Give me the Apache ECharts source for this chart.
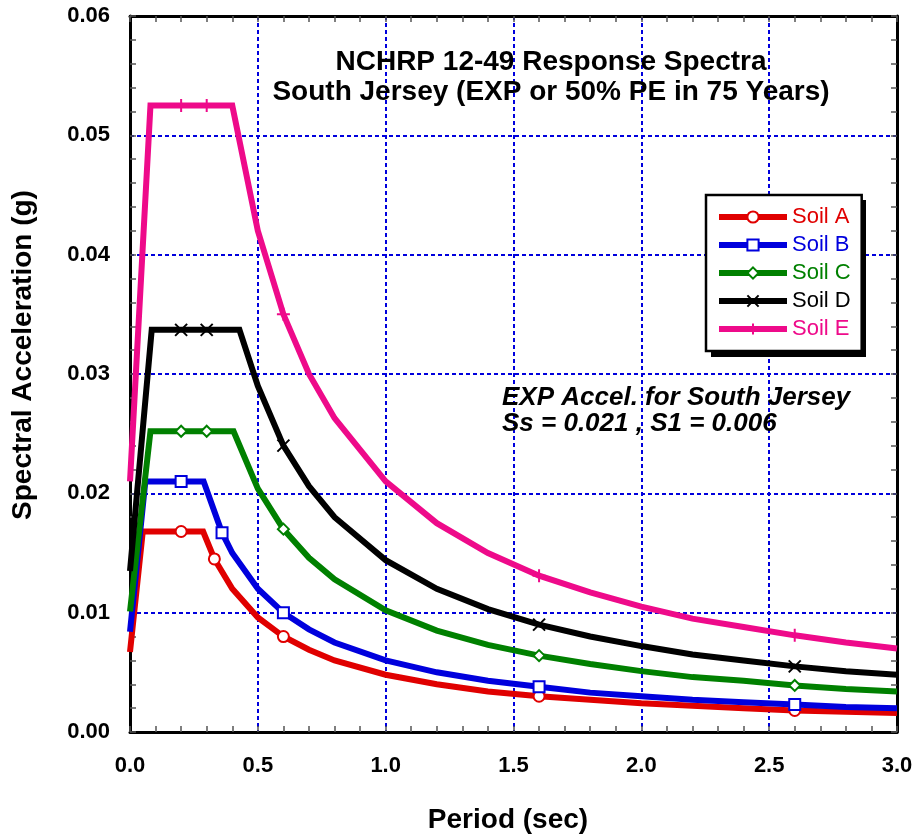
<!DOCTYPE html>
<html>
<head>
<meta charset="utf-8">
<script src="https://cdn.jsdelivr.net/npm/echarts@6/dist/echarts.min.js"></script>
<style>
html,body{margin:0;padding:0;background:#fff;}
#chart{width:916px;height:837px;}
</style>
</head>
<body>
<div id="chart"></div>
<script>
// ---- data ----
var soilA_T  = [0, 0.05, 0.2, 0.286, 0.33, 0.4, 0.5, 0.6, 0.7, 0.8, 1.0, 1.2, 1.4, 1.6, 1.8, 2.0, 2.2, 2.4, 2.6, 2.8, 3.0];
var soilA_Sa = [0.0067, 0.0168, 0.0168, 0.0168, 0.0145, 0.0120, 0.0096, 0.0080, 0.0069, 0.0060, 0.0048, 0.0040, 0.0034, 0.0030, 0.0027, 0.0024, 0.0022, 0.0020, 0.0018, 0.0017, 0.0016];
var soilA_markers = [0.2, 0.33, 0.6, 1.6, 2.6];

var soilB_T  = [0, 0.06, 0.2, 0.288, 0.36, 0.4, 0.5, 0.6, 0.7, 0.8, 1.0, 1.2, 1.4, 1.6, 1.8, 2.0, 2.2, 2.4, 2.6, 2.8, 3.0];
var soilB_Sa = [0.0084, 0.0210, 0.0210, 0.0210, 0.0167, 0.0150, 0.0120, 0.0100, 0.0086, 0.0075, 0.0060, 0.0050, 0.0043, 0.0038, 0.0033, 0.0030, 0.0027, 0.0025, 0.0023, 0.0021, 0.0020];
var soilB_markers = [0.2, 0.36, 0.6, 1.6, 2.6];

var soilC_T  = [0, 0.08, 0.2, 0.3, 0.405, 0.5, 0.6, 0.7, 0.8, 1.0, 1.2, 1.4, 1.6, 1.8, 2.0, 2.2, 2.4, 2.6, 2.8, 3.0];
var soilC_Sa = [0.0101, 0.0252, 0.0252, 0.0252, 0.0252, 0.0204, 0.0170, 0.0146, 0.0128, 0.0102, 0.0085, 0.0073, 0.0064, 0.0057, 0.0051, 0.0046, 0.0043, 0.0039, 0.0036, 0.0034];
var soilC_markers = [0.2, 0.3, 0.6, 1.6, 2.6];

var soilD_T  = [0, 0.085, 0.2, 0.3, 0.428, 0.5, 0.6, 0.7, 0.8, 1.0, 1.2, 1.4, 1.6, 1.8, 2.0, 2.2, 2.4, 2.6, 2.8, 3.0];
var soilD_Sa = [0.0135, 0.0337, 0.0337, 0.0337, 0.0337, 0.0290, 0.0240, 0.0206, 0.0180, 0.0144, 0.0120, 0.0103, 0.0090, 0.0080, 0.0072, 0.0065, 0.0060, 0.0055, 0.0051, 0.0048];
var soilD_markers = [0.2, 0.3, 0.6, 1.6, 2.6];

var soilE_T  = [0, 0.08, 0.2, 0.3, 0.40, 0.5, 0.6, 0.7, 0.8, 1.0, 1.2, 1.4, 1.6, 1.8, 2.0, 2.2, 2.4, 2.6, 2.8, 3.0];
var soilE_Sa = [0.0210, 0.0525, 0.0525, 0.0525, 0.0525, 0.0420, 0.0350, 0.0300, 0.0263, 0.0210, 0.0175, 0.0150, 0.0131, 0.0117, 0.0105, 0.0095, 0.0088, 0.0081, 0.0075, 0.0070];
var soilE_markers = [0.2, 0.3, 0.6, 1.6, 2.6];

var seriesNames = ['Soil A', 'Soil B', 'Soil C', 'Soil D', 'Soil E'];
var titleLines = ['NCHRP 12-49 Response Spectra', 'South Jersey (EXP or 50% PE in 75 Years)'];
var noteLines = ['EXP Accel. for South Jersey', 'Ss = 0.021 , S1 = 0.006'];
var xAxisTitle = 'Period (sec)';
var yAxisTitle = 'Spectral Acceleration (g)';

// ---- styling ----
var colors = ['#e00000', '#0000dd', '#008000', '#000000', '#ee0a8a'];
var symbols = [
  'emptyCircle',
  'emptyRect',
  'emptyDiamond',
  'path://M0,0L10,10M10,0L0,10',
  'path://M0,5L10,5M5,0L5,10'
];
var symbolSizes = [11, 11, 11, 12, 13];
var FONT = '"Liberation Sans", Arial, Helvetica, sans-serif';

function buildData(T, S, markers) {
  var out = [];
  for (var i = 0; i < T.length; i++) {
    var item = { value: [T[i], S[i]] };
    if (markers.indexOf(T[i]) < 0) item.symbol = 'none';
    out.push(item);
  }
  return out;
}
var allT = [soilA_T, soilB_T, soilC_T, soilD_T, soilE_T];
var allS = [soilA_Sa, soilB_Sa, soilC_Sa, soilD_Sa, soilE_Sa];
var allM = [soilA_markers, soilB_markers, soilC_markers, soilD_markers, soilE_markers];

var series = seriesNames.map(function (name, i) {
  var isPath = i >= 3;
  return {
    name: name,
    type: 'line',
    data: buildData(allT[i], allS[i], allM[i]),
    xAxisIndex: 0, yAxisIndex: 0,
    symbol: symbols[i],
    symbolSize: symbolSizes[i],
    showSymbol: true,
    showAllSymbol: true,
    lineStyle: { color: colors[i], width: 6, join: 'miter' },
    itemStyle: isPath
      ? { color: colors[i], borderColor: colors[i], borderWidth: 2 }
      : { color: colors[i], borderWidth: 1.5 },
    z: 2 + i,
    animation: false,
    silent: true
  };
});

var chart = echarts.init(document.getElementById('chart'), null, { renderer: 'canvas' });

var gridLine = { show: true, lineStyle: { color: '#0000dd', width: 2, type: [4, 3] } };
var axisLineStyle = { show: true, onZero: false, lineStyle: { color: '#000', width: 3 } };
var tickStyle = { color: '#555', width: 1.5 };

var option = {
  animation: false,
  backgroundColor: '#ffffff',
  grid: { left: 130, top: 16, right: 19, bottom: 105, containLabel: false },
  xAxis: [
    {
      type: 'value', min: 0, max: 3, interval: 0.5,
      axisLine: axisLineStyle,
      axisTick: { show: true, inside: true, length: 6, lineStyle: tickStyle },
      minorTick: { show: true, splitNumber: 5, length: 6, lineStyle: tickStyle },
      splitLine: gridLine,
      axisLabel: {
        margin: 23, color: '#000', fontFamily: FONT, fontWeight: 'bold', fontSize: 22,
        formatter: function (v) { return v.toFixed(1); }
      }
    },
    {
      type: 'value', min: 0, max: 3, interval: 0.5, position: 'top',
      axisLine: axisLineStyle,
      axisTick: { show: true, inside: true, length: 6, lineStyle: tickStyle },
      minorTick: { show: true, splitNumber: 5, length: 6, lineStyle: tickStyle },
      splitLine: { show: false },
      axisLabel: { show: false }
    }
  ],
  yAxis: [
    {
      type: 'value', min: 0, max: 0.06, interval: 0.01,
      axisLine: axisLineStyle,
      axisTick: { show: true, inside: true, length: 6, lineStyle: tickStyle },
      minorTick: { show: true, splitNumber: 5, length: 6, lineStyle: tickStyle },
      splitLine: gridLine,
      axisLabel: {
        margin: 20, color: '#000', fontFamily: FONT, fontWeight: 'bold', fontSize: 22,
        formatter: function (v) { return v.toFixed(2); }
      }
    },
    {
      type: 'value', min: 0, max: 0.06, interval: 0.01, position: 'right',
      axisLine: axisLineStyle,
      axisTick: { show: true, inside: true, length: 6, lineStyle: tickStyle },
      minorTick: { show: true, splitNumber: 5, length: 6, lineStyle: tickStyle },
      splitLine: { show: false },
      axisLabel: { show: false }
    }
  ],
  legend: {
    orient: 'vertical',
    left: 706, top: 195,
    padding: [11, 11, 11, 10],
    itemWidth: 68, itemHeight: 14, itemGap: 6,
    backgroundColor: '#ffffff',
    borderColor: '#000', borderWidth: 2.5,
    selectedMode: false,
    z: 20,
    lineStyle: { width: 6 },
    textStyle: { fontFamily: FONT, fontSize: 22, lineHeight: 22 },
    data: seriesNames.map(function (n, i) { return { name: n, textStyle: { color: colors[i] } }; })
  },
  graphic: [
    { type: 'rect', z: 19, shape: { x: 711, y: 200, width: 155, height: 157 }, style: { fill: '#000' } },
    { type: 'text', x: 551, y: 62, z: 10, style: { text: titleLines[0], font: 'bold 28px ' + FONT, fill: '#000', align: 'center', verticalAlign: 'middle' } },
    { type: 'text', x: 551, y: 92, z: 10, style: { text: titleLines[1], font: 'bold 28px ' + FONT, fill: '#000', align: 'center', verticalAlign: 'middle' } },
    { type: 'text', x: 502, y: 398, z: 10, style: { text: noteLines[0], font: 'italic bold 26px ' + FONT, fill: '#000', align: 'left', verticalAlign: 'middle' } },
    { type: 'text', x: 502, y: 424, z: 10, style: { text: noteLines[1], font: 'italic bold 26px ' + FONT, fill: '#000', align: 'left', verticalAlign: 'middle' } },
    { type: 'text', x: 508, y: 820, z: 10, style: { text: xAxisTitle, font: 'bold 28px ' + FONT, fill: '#000', align: 'center', verticalAlign: 'middle' } },
    { type: 'text', x: 23, y: 355, rotation: Math.PI / 2, z: 10, style: { text: yAxisTitle, font: 'bold 28px ' + FONT, fill: '#000', align: 'center', verticalAlign: 'middle' } }
  ],
  series: series
};
chart.setOption(option);
</script>
</body>
</html>
